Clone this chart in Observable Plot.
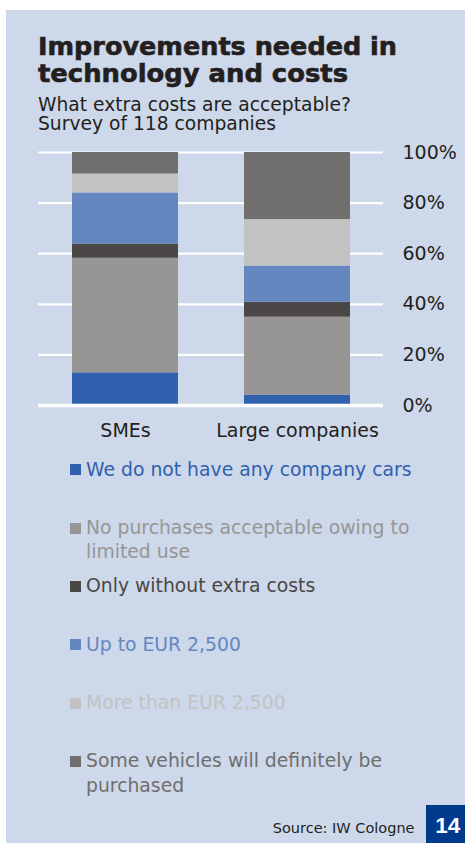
<!DOCTYPE html>
<html><head><meta charset="utf-8">
<script src="https://cdn.jsdelivr.net/npm/d3@7"></script>
<script src="https://cdn.jsdelivr.net/npm/@observablehq/plot@0.6"></script>
<style>
body{margin:0;background:#fff;}
#root{position:relative;width:465px;height:843px;overflow:hidden;background:#fff;font-family:"DejaVu Sans",sans-serif;}
#panel{position:absolute;left:6px;top:10px;width:459px;height:833px;background:#cdd8ea;}
.t{position:absolute;white-space:nowrap;}
#chart{position:absolute;left:0;top:140px;}
</style></head><body><div id="root"><div id="panel"></div><div id="chart"></div></div>
<script>
// ---- data ----
const categories = ["SMEs", "Large companies"];
const series = [
  "We do not have any company cars",
  "No purchases acceptable owing to limited use",
  "Only without extra costs",
  "Up to EUR 2,500",
  "More than EUR 2,500",
  "Some vehicles will definitely be purchased"
];
const legendLines = [
  ["We do not have any company cars"],
  ["No purchases acceptable owing to", "limited use"],
  ["Only without extra costs"],
  ["Up to EUR 2,500"],
  ["More than EUR 2,500"],
  ["Some vehicles will definitely be", "purchased"]
];
const smeValues = [12.9, 45.3, 5.6, 20.2, 7.5, 8.5];
const largeValues = [4.1, 30.8, 5.9, 14.3, 18.4, 26.5];
const colors = ["#3060ae", "#979694", "#4b4746", "#6487c0", "#c2c2c2", "#706f6d"];
const yTicks = [0, 20, 40, 60, 80, 100];
const titleLines = ["Improvements needed in", "technology and costs"];
const subtitleLines = ["What extra costs are acceptable?", "Survey of 118 companies"];
const sourceText = "Source: IW Cologne";
const pageNumber = "14";

// ---- helpers ----
const root = document.getElementById("root");
function addText(txt, x, baseline, size, opts = {}) {
  const el = document.createElement("div");
  el.className = "t";
  el.textContent = txt;
  el.style.fontSize = size + "px";
  el.style.lineHeight = size + "px";
  el.style.fontFamily = opts.family || '"DejaVu Sans", sans-serif';
  if (opts.weight) el.style.fontWeight = opts.weight;
  el.style.color = opts.color || "#231f20";
  if (opts.stroke) el.style.webkitTextStroke = opts.stroke;
  const asc = opts.asc ?? 0.846;
  el.style.top = (baseline - asc * size) + "px";
  root.appendChild(el);
  const w = el.getBoundingClientRect().width;
  if (opts.anchor === "end") el.style.left = (x - w) + "px";
  else if (opts.anchor === "middle") el.style.left = (x - w / 2) + "px";
  else el.style.left = x + "px";
  if (opts.fit) {
    el.style.transformOrigin = "0 0";
    el.style.transform = `scaleX(${opts.fit / w})`;
  }
  return el;
}

// ---- title / subtitle ----
addText(titleLines[0], 38, 55.5, 24, {weight: "bold", fit: 359, stroke: "0.6px #231f20"});
addText(titleLines[1], 38, 82, 24, {weight: "bold", fit: 310, stroke: "0.6px #231f20"});
addText(subtitleLines[0], 38, 111.7, 18.7);
addText(subtitleLines[1], 38, 131.2, 18.7);

// ---- chart ----
const table = [];
categories.forEach((c, ci) => {
  const vals = ci === 0 ? smeValues : largeValues;
  series.forEach((s, si) => table.push({category: c, series: s, value: vals[si]}));
});

const chart = Plot.plot({
  width: 465,
  height: 310,
  marginLeft: 38,
  marginRight: 82,
  marginTop: 12,
  marginBottom: 45,
  style: {background: "transparent", fontFamily: '"DejaVu Sans", sans-serif', fontSize: "19px", color: "#231f20"},
  x: {domain: categories, padding: 0, label: null},
  y: {domain: [0, 100], label: null},
  color: {domain: series, range: colors},
  marks: [
    Plot.ruleY(yTicks.filter(d => d > 0), {stroke: "#ffffff", strokeWidth: 2.2}),
    Plot.barY(table, {x: "category", y: "value", fill: "series", insetLeft: 33, insetRight: 33}),
    Plot.ruleY([0], {stroke: "#ffffff", strokeWidth: 3.3}),
    Plot.axisY(yTicks, {anchor: "right", tickSize: 0, tickPadding: 19, tickFormat: d => d + "%", label: null, fontSize: 19}),
    Plot.axisX({tickSize: 0, tickPadding: 18, label: null, fontSize: 19})
  ]
});
document.getElementById("chart").appendChild(chart);

// ---- legend ----
legendLines.forEach((lines, i) => {
  const base = 476.7 + i * 58.3;
  const sq = document.createElement("div");
  sq.style.position = "absolute";
  sq.style.left = "70px";
  sq.style.top = (base - 12.4) + "px";
  sq.style.width = "11px";
  sq.style.height = "11px";
  sq.style.background = colors[i];
  root.appendChild(sq);
  lines.forEach((ln, li) => addText(ln, 86, base + li * 24.3, 18.8, {color: colors[i]}));
});

// ---- source & page number ----
addText(sourceText, 414.5, 833.3, 14.5, {anchor: "end"});
const box = document.createElement("div");
box.style.position = "absolute";
box.style.left = "426px";
box.style.top = "805px";
box.style.width = "39px";
box.style.height = "38px";
box.style.background = "#003a8c";
root.appendChild(box);
addText(pageNumber, 447.8, 834.3, 22.5, {family: '"Liberation Sans", Arial, sans-serif', weight: "bold", color: "#ffffff", anchor: "middle", asc: 0.86});
</script>
</body></html>
